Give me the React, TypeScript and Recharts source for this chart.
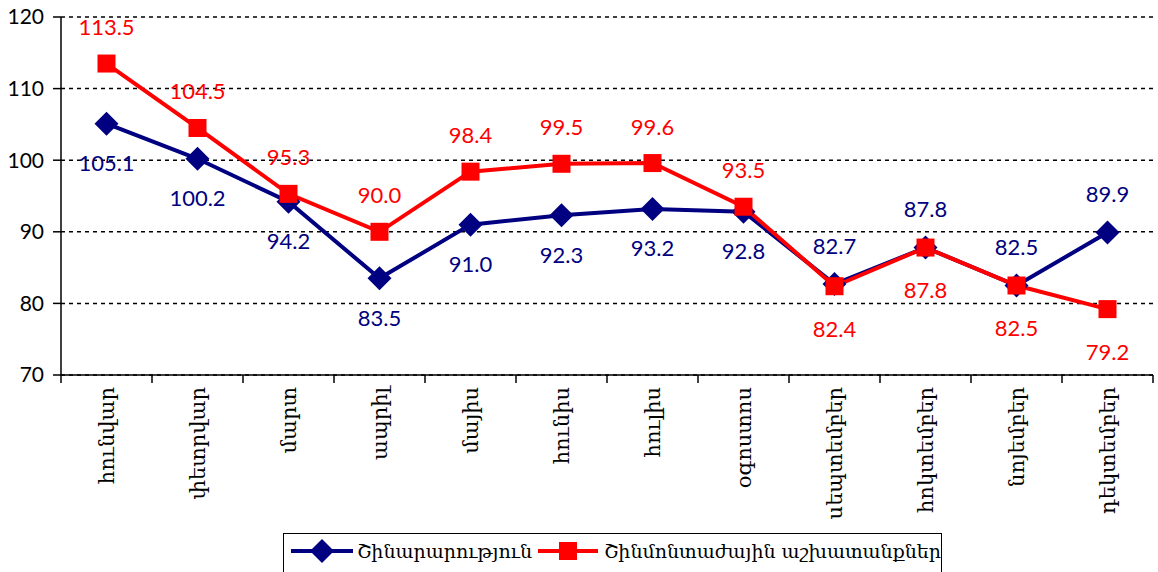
import React from "react";
import {
  LineChart,
  Line,
  XAxis,
  YAxis,
  CartesianGrid,
  Legend,
  LabelList,
} from "recharts";

const months = [
  "հունվար",
  "փետրվար",
  "մարտ",
  "ապրիլ",
  "մայիս",
  "հունիս",
  "հուլիս",
  "օգոստոս",
  "սեպտեմբեր",
  "հոկտեմբեր",
  "նոյեմբեր",
  "դեկտեմբեր",
];
const construction = [105.1, 100.2, 94.2, 83.5, 91.0, 92.3, 93.2, 92.8, 82.7, 87.8, 82.5, 89.9];
const installation = [113.5, 104.5, 95.3, 90.0, 98.4, 99.5, 99.6, 93.5, 82.4, 87.8, 82.5, 79.2];
const yTicks = [70, 80, 90, 100, 110, 120];

const seriesNames = ["Շինարարություն", "Շինմոնտաժային աշխատանքներ"];

const BLUE = "#000080";
const RED = "#FF0000";
const LABEL_FONT = "Lato, 'Open Sans', sans-serif";
const SERIF = "'DejaVu Serif', 'Liberation Serif', serif";

const data = months.map((m, i) => ({
  month: m,
  construction: construction[i],
  installation: installation[i],
}));

const TICK_SIZE = 8;
const TICK_MARGIN = 4;
const HALF_BAND = 45.5;

function Diamond({ cx, cy }: any) {
  if (cx == null || cy == null) return null;
  const r = 12;
  return (
    <path
      d={`M${cx},${cy - r}L${cx + r},${cy}L${cx},${cy + r}L${cx - r},${cy}Z`}
      fill={BLUE}
    />
  );
}

function Square({ cx, cy }: any) {
  if (cx == null || cy == null) return null;
  const r = 9;
  return <rect x={cx - r} y={cy - r} width={r * 2} height={r * 2} fill={RED} />;
}

function MonthTick(props: any) {
  const { x, y, payload, index } = props;
  const axisY = y - TICK_SIZE - TICK_MARGIN;
  const left = x - HALF_BAND;
  return (
    <g>
      <line x1={left} y1={axisY} x2={left} y2={axisY + TICK_SIZE} stroke="#000" strokeWidth={1.5} />
      {index === months.length - 1 && (
        <line
          x1={x + HALF_BAND}
          y1={axisY}
          x2={x + HALF_BAND}
          y2={axisY + TICK_SIZE}
          stroke="#000"
          strokeWidth={1.5}
        />
      )}
      <text
        x={x}
        y={y}
        transform={`rotate(-90 ${x} ${y})`}
        textAnchor="end"
        dominantBaseline="central"
        fontFamily={SERIF}
        fontSize={21}
        fill="#000"
      >
        {payload.value}
      </text>
    </g>
  );
}

// blue label goes above its point when blue >= red, otherwise below (and red the opposite)
function makeLabel(series: "construction" | "installation") {
  return (props: any) => {
    const { x, y, value, index } = props;
    const blueAbove = construction[index] >= installation[index];
    let dy: number;
    if (series === "construction") dy = blueAbove ? -39 : 39;
    else dy = blueAbove ? 42 : -37;
    return (
      <text
        x={x}
        y={y + dy}
        textAnchor="middle"
        dominantBaseline="central"
        fontFamily={LABEL_FONT}
        fontSize={22}
        fill={series === "construction" ? BLUE : RED}
      >
        {Number(value).toFixed(1)}
      </text>
    );
  };
}

function LegendBox() {
  return (
    <div
      style={{
        width: 659,
        height: 45,
        border: "1.5px solid #000",
        boxSizing: "border-box",
        display: "flex",
        alignItems: "flex-start",
        paddingTop: 4,
        paddingLeft: 7,
        fontFamily: SERIF,
        fontSize: 19,
        color: "#000",
        background: "#fff",
        whiteSpace: "nowrap",
        overflow: "hidden",
      }}
    >
      <svg width={62} height={26} style={{ flex: "none" }}>
        <line x1={0} y1={13} x2={62} y2={13} stroke={BLUE} strokeWidth={4} />
        <Diamond cx={31} cy={13} />
      </svg>
      <span style={{ marginLeft: 4, marginRight: 6, lineHeight: "26px" }}>{seriesNames[0]}</span>
      <svg width={60} height={26} style={{ flex: "none" }}>
        <line x1={0} y1={13} x2={60} y2={13} stroke={RED} strokeWidth={4} />
        <Square cx={30} cy={13} />
      </svg>
      <span style={{ marginLeft: 6, lineHeight: "26px" }}>{seriesNames[1]}</span>
    </div>
  );
}

export default function App() {
  return (
    <div>
      <style>{`body{margin:0;background:#fff}`}</style>
      <LineChart
        width={1158}
        height={572}
        data={data}
        margin={{ top: 17, right: 5, left: 0, bottom: 0 }}
      >
        <CartesianGrid vertical={false} stroke="#000" strokeWidth={1.5} strokeDasharray="4 4" />
        <XAxis
          dataKey="month"
          height={152}
          interval={0}
          padding={{ left: HALF_BAND, right: HALF_BAND }}
          axisLine={{ stroke: "#000", strokeWidth: 1.5 }}
          tickLine={false}
          tickSize={TICK_SIZE}
          tickMargin={TICK_MARGIN}
          tick={<MonthTick />}
        />
        <YAxis
          width={61}
          domain={[70, 120]}
          ticks={yTicks}
          interval={0}
          axisLine={{ stroke: "#000", strokeWidth: 1.5 }}
          tickLine={{ stroke: "#000", strokeWidth: 1.5 }}
          tickSize={8}
          tickMargin={9}
          tick={{ fontFamily: LABEL_FONT, fontSize: 21, fill: "#000" }}
        />
        <Legend
          verticalAlign="bottom"
          content={() => <LegendBox />}
          wrapperStyle={{ left: 283, top: 533, width: 659, height: 45 }}
        />
        <Line
          dataKey="construction"
          name={seriesNames[0]}
          stroke={BLUE}
          strokeWidth={4}
          dot={<Diamond />}
          activeDot={false}
          isAnimationActive={false}
        >
          <LabelList dataKey="construction" content={makeLabel("construction")} />
        </Line>
        <Line
          dataKey="installation"
          name={seriesNames[1]}
          stroke={RED}
          strokeWidth={4}
          dot={<Square />}
          activeDot={false}
          isAnimationActive={false}
        >
          <LabelList dataKey="installation" content={makeLabel("installation")} />
        </Line>
      </LineChart>
    </div>
  );
}
